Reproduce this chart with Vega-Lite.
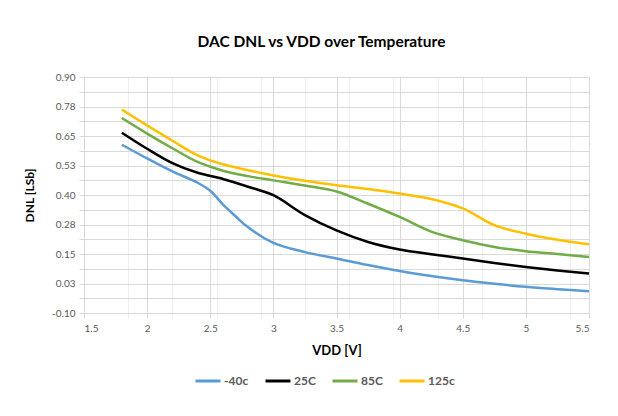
{
  "$schema": "https://vega.github.io/schema/vega-lite/v6.json",
  "width": 505,
  "height": 236,
  "autosize": "none",
  "padding": {"left": 84, "top": 77, "right": 29, "bottom": 103},
  "background": "white",
  "title": {
    "text": "DAC DNL vs VDD over Temperature",
    "font": "Lato",
    "fontSize": 15.5,
    "fontWeight": "bold",
    "color": "#000000",
    "anchor": "middle",
    "frame": "group",
    "baseline": "alphabetic",
    "offset": 10,
    "dx": -15
  },
  "config": {
    "view": {"stroke": null},
    "font": "Lato"
  },
  "data": {
    "values": [
      {"v": 1.8, "dnl": 0.613, "temp": "-40c"},
      {"v": 2.0, "dnl": 0.555, "temp": "-40c"},
      {"v": 2.2, "dnl": 0.5, "temp": "-40c"},
      {"v": 2.4, "dnl": 0.452, "temp": "-40c"},
      {"v": 2.5, "dnl": 0.418, "temp": "-40c"},
      {"v": 2.6, "dnl": 0.36, "temp": "-40c"},
      {"v": 2.7, "dnl": 0.31, "temp": "-40c"},
      {"v": 2.8, "dnl": 0.263, "temp": "-40c"},
      {"v": 3.0, "dnl": 0.197, "temp": "-40c"},
      {"v": 3.25, "dnl": 0.158, "temp": "-40c"},
      {"v": 3.5, "dnl": 0.131, "temp": "-40c"},
      {"v": 3.75, "dnl": 0.103, "temp": "-40c"},
      {"v": 4.0, "dnl": 0.078, "temp": "-40c"},
      {"v": 4.25, "dnl": 0.057, "temp": "-40c"},
      {"v": 4.5, "dnl": 0.039, "temp": "-40c"},
      {"v": 4.75, "dnl": 0.024, "temp": "-40c"},
      {"v": 5.0, "dnl": 0.011, "temp": "-40c"},
      {"v": 5.25, "dnl": 0.001, "temp": "-40c"},
      {"v": 5.5, "dnl": -0.008, "temp": "-40c"},
      {"v": 1.8, "dnl": 0.664, "temp": "25C"},
      {"v": 2.0, "dnl": 0.596, "temp": "25C"},
      {"v": 2.2, "dnl": 0.535, "temp": "25C"},
      {"v": 2.4, "dnl": 0.494, "temp": "25C"},
      {"v": 2.6, "dnl": 0.468, "temp": "25C"},
      {"v": 2.8, "dnl": 0.435, "temp": "25C"},
      {"v": 3.0, "dnl": 0.399, "temp": "25C"},
      {"v": 3.25, "dnl": 0.315, "temp": "25C"},
      {"v": 3.5, "dnl": 0.25, "temp": "25C"},
      {"v": 3.75, "dnl": 0.201, "temp": "25C"},
      {"v": 4.0, "dnl": 0.169, "temp": "25C"},
      {"v": 4.25, "dnl": 0.149, "temp": "25C"},
      {"v": 4.5, "dnl": 0.131, "temp": "25C"},
      {"v": 4.75, "dnl": 0.112, "temp": "25C"},
      {"v": 5.0, "dnl": 0.095, "temp": "25C"},
      {"v": 5.25, "dnl": 0.08, "temp": "25C"},
      {"v": 5.5, "dnl": 0.067, "temp": "25C"},
      {"v": 1.8, "dnl": 0.726, "temp": "85C"},
      {"v": 2.0, "dnl": 0.66, "temp": "85C"},
      {"v": 2.2, "dnl": 0.598, "temp": "85C"},
      {"v": 2.4, "dnl": 0.54, "temp": "85C"},
      {"v": 2.6, "dnl": 0.503, "temp": "85C"},
      {"v": 2.8, "dnl": 0.48, "temp": "85C"},
      {"v": 3.0, "dnl": 0.462, "temp": "85C"},
      {"v": 3.25, "dnl": 0.44, "temp": "85C"},
      {"v": 3.5, "dnl": 0.415, "temp": "85C"},
      {"v": 3.75, "dnl": 0.363, "temp": "85C"},
      {"v": 4.0, "dnl": 0.307, "temp": "85C"},
      {"v": 4.25, "dnl": 0.245, "temp": "85C"},
      {"v": 4.5, "dnl": 0.208, "temp": "85C"},
      {"v": 4.75, "dnl": 0.18, "temp": "85C"},
      {"v": 5.0, "dnl": 0.162, "temp": "85C"},
      {"v": 5.25, "dnl": 0.15, "temp": "85C"},
      {"v": 5.5, "dnl": 0.137, "temp": "85C"},
      {"v": 1.8, "dnl": 0.762, "temp": "125c"},
      {"v": 2.0, "dnl": 0.695, "temp": "125c"},
      {"v": 2.2, "dnl": 0.63, "temp": "125c"},
      {"v": 2.4, "dnl": 0.568, "temp": "125c"},
      {"v": 2.6, "dnl": 0.53, "temp": "125c"},
      {"v": 2.8, "dnl": 0.505, "temp": "125c"},
      {"v": 3.0, "dnl": 0.483, "temp": "125c"},
      {"v": 3.25, "dnl": 0.46, "temp": "125c"},
      {"v": 3.5, "dnl": 0.441, "temp": "125c"},
      {"v": 3.75, "dnl": 0.425, "temp": "125c"},
      {"v": 4.0, "dnl": 0.406, "temp": "125c"},
      {"v": 4.25, "dnl": 0.383, "temp": "125c"},
      {"v": 4.5, "dnl": 0.343, "temp": "125c"},
      {"v": 4.75, "dnl": 0.272, "temp": "125c"},
      {"v": 5.0, "dnl": 0.236, "temp": "125c"},
      {"v": 5.25, "dnl": 0.21, "temp": "125c"},
      {"v": 5.5, "dnl": 0.191, "temp": "125c"}
    ]
  },
  "mark": {"type": "line", "interpolate": "catmull-rom", "strokeWidth": 2.5},
  "encoding": {
    "x": {
      "field": "v",
      "type": "quantitative",
      "scale": {"domain": [1.5, 5.5], "nice": false, "zero": false},
      "axis": {
        "title": "VDD [V]",
        "titleFont": "Lato",
        "titleFontSize": 13,
        "titleFontWeight": "bold",
        "titleColor": "#000000",
        "titlePadding": 11,
        "values": [1.5, 1.85, 2, 2.2, 2.5, 2.55, 2.9, 3, 3.25, 3.5, 3.6, 3.95, 4, 4.3, 4.5, 4.65, 5, 5.35, 5.5],
        "labelExpr": "abs(datum.value * 2 - round(datum.value * 2)) < 0.001 ? '' + datum.value : ''",
        "labelOverlap": false,
        "labelFont": "Lato",
        "labelFontSize": 10,
        "labelColor": "#595959",
        "labelPadding": 5,
        "grid": true,
        "gridColor": {"condition": {"test": "abs(datum.value * 2 - round(datum.value * 2)) < 0.001", "value": "#D9D9D9"}, "value": "#EFEFEF"},
        "tickColor": {"condition": {"test": "abs(datum.value * 2 - round(datum.value * 2)) < 0.001", "value": "#D9D9D9"}, "value": "#EFEFEF"},
        "tickSize": 5,
        "domainColor": "#D9D9D9"
      }
    },
    "y": {
      "field": "dnl",
      "type": "quantitative",
      "scale": {"domain": [-0.1, 0.9], "nice": false, "zero": false},
      "axis": {
        "title": "DNL [LSb]",
        "titleFont": "Lato",
        "titleFontSize": 12,
        "titleFontWeight": "bold",
        "titleColor": "#000000",
        "titlePadding": 15,
        "values": [-0.1, -0.0375, 0.025, 0.0875, 0.15, 0.2125, 0.275, 0.3375, 0.4, 0.4625, 0.525, 0.5875, 0.65, 0.7125, 0.775, 0.8375, 0.9],
        "labelExpr": "abs((datum.value + 0.1) * 8 - round((datum.value + 0.1) * 8)) < 0.01 ? replace(format(datum.value, '.2f'), '\u2212', '-') : ''",
        "labelOverlap": false,
        "labelFont": "Lato",
        "labelFontSize": 10,
        "labelColor": "#595959",
        "labelPadding": 4,
        "grid": true,
        "gridColor": "#D9D9D9",
        "tickColor": "#D9D9D9",
        "tickSize": 5,
        "domainColor": "#D9D9D9"
      }
    },
    "color": {
      "field": "temp",
      "type": "nominal",
      "sort": ["-40c", "25C", "85C", "125c"],
      "scale": {"domain": ["-40c", "25C", "85C", "125c"], "range": ["#5B9BD5", "#000000", "#70AD47", "#FFC000"]},
      "legend": {
        "title": null,
        "orient": "none",
        "legendX": 110,
        "legendY": 290,
        "direction": "horizontal",
        "symbolType": "stroke",
        "symbolSize": 625,
        "symbolStrokeWidth": 3,
        "labelFont": "Lato",
        "labelFontSize": 12,
        "labelFontWeight": "bold",
        "labelColor": "#595959",
        "labelOffset": 2,
        "columnPadding": 10
      }
    }
  }
}
